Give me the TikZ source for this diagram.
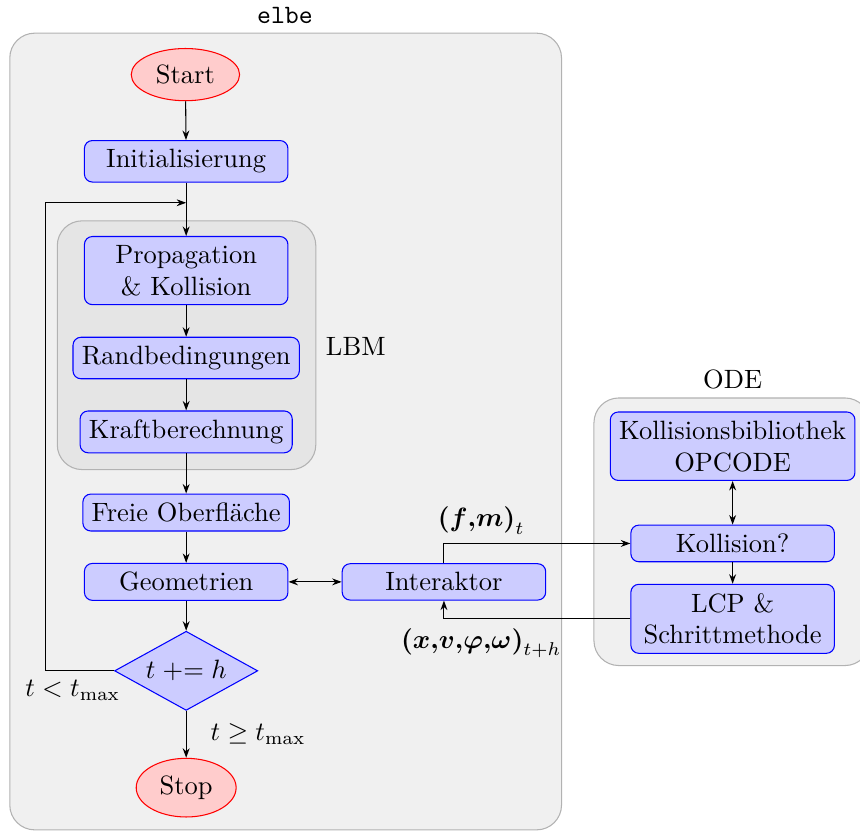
\documentclass[tikz,border=0pt]{standalone}
\usepackage{amsmath}
\usetikzlibrary{shapes.geometric,arrows.meta}

\begin{document}
\begin{tikzpicture}[>={Stealth[length=3.6pt,width=2.6pt]},
  block/.style={draw=blue,fill=blue!20,rounded corners=3pt,minimum width=2.7cm,align=center},
  term/.style={draw=red,fill=red!20,ellipse},
  decide/.style={draw=blue,fill=blue!20,diamond,aspect=2,inner sep=1pt,minimum width=1.9cm,minimum height=1.05cm},
  group/.style={draw=gray!60,rounded corners=0.33cm}]
\useasboundingbox (0,0) rectangle (11.41,-11.03);

% frames
\draw[group,fill=gray!12] (0.13,-0.44) rectangle (7.45,-11.01);
\node[font=\ttfamily] (elbe) at (3.78,-0.20) {elbe};
\draw[group,fill=gray!20] (0.76,-2.93) rectangle (4.19,-6.23);
\node (lbm) at (4.72,-4.60) {LBM};
\draw[group,fill=gray!12] (7.88,-5.28) rectangle (11.54,-8.83);
\node (ode) at (9.72,-5.04) {ODE};

% elbe
\node[term] (start) at (2.46,-0.99) {Start};
\node[block] (init) at (2.47,-2.14) {Initialisierung};
\coordinate (merge) at (2.47,-2.69);
\coordinate (back) at (0.60,-2.69);
\node[block] (prop) at (2.47,-3.59) {Propagation\\ \& Kollision};
\node[block] (rand) at (2.47,-4.75) {Randbedingungen};
\node[block] (kraft) at (2.47,-5.73) {Kraftberechnung};
\node[block] (frei) at (2.47,-6.80) {Freie Oberfläche};
\node[block] (geom) at (2.47,-7.72) {Geometrien};
\node[block] (inter) at (5.89,-7.72) {Interaktor};
\node[decide] (dec) at (2.47,-8.90) {$t \mathrel{+}= h$};
\node[term] (stop) at (2.47,-10.45) {Stop};

% ODE
\node[block] (bib) at (9.72,-5.92) {Kollisionsbibliothek\\OPCODE};
\node[block] (koll) at (9.72,-7.21) {Kollision?};
\node[block] (lcp) at (9.72,-8.21) {LCP \&\\Schrittmethode};

\draw[->] (start) -- (init);
\draw (init) -- (merge);
\draw[->] (merge) -- (prop);
\draw[->] (prop) -- (rand);
\draw[->] (rand) -- (kraft);
\draw[->] (kraft) -- (frei);
\draw[->] (frei) -- (geom);
\draw[->] (geom) -- (dec);
\draw[->] (dec) -- node[right=0.2cm] {$t \geq t_{\max}$} (stop);
\draw[->] (dec.west) -| node[pos=0.3,below] {$t < t_{\max}$} (back) -- (merge);
\draw[<->] (geom) -- (inter);
\draw[->] (inter.north) |- node[pos=0.6,above] {$\boldsymbol{(f{,}m)}_t$} (koll.west);
\draw[->] (lcp.west) -| node[pos=0.4,below] {$\boldsymbol{(x{,}v{,}\varphi{,}\omega)}_{t+h}$} (inter.south);
\draw[<->] (bib) -- (koll);
\draw[->] (koll) -- (lcp);
\end{tikzpicture}
\end{document}
